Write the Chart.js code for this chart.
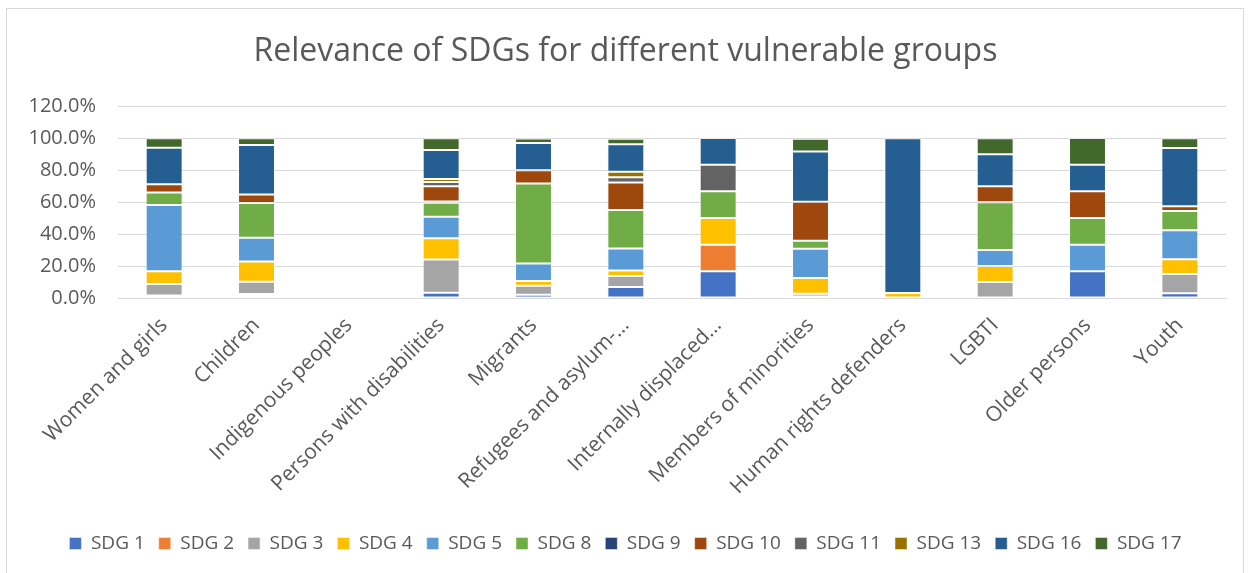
<!DOCTYPE html>
<html>
<head>
<meta charset="utf-8">
<script src="https://cdn.jsdelivr.net/npm/chart.js@4.4.1/dist/chart.umd.min.js"></script>
<style>
  html, body { margin: 0; padding: 0; background: #ffffff; }
  #wrap { position: absolute; left: 0; top: 0; width: 1250px; height: 573px; }
  #frame { position: absolute; left: 6px; top: 8px; width: 1238px; height: 570px; border: 1px solid #d9d9d9; box-sizing: border-box; }
  canvas { position: absolute; left: 0; top: 0; }
</style>
</head>
<body>
<div id="wrap">
  <div id="frame"></div>
  <canvas id="c" width="1250" height="573"></canvas>
</div>
<script>
const categories = [
  "Women and girls", "Children", "Indigenous peoples", "Persons with disabilities",
  "Migrants", "Refugees and asylum-\u2026", "Internally displaced\u2026", "Members of minorities",
  "Human rights defenders", "LGBTI", "Older persons", "Youth"
];
const seriesNames = ["SDG 1", "SDG 2", "SDG 3", "SDG 4", "SDG 5", "SDG 8", "SDG 9", "SDG 10", "SDG 11", "SDG 13", "SDG 16", "SDG 17"];
const seriesColors = ["#4472C4", "#ED7D31", "#A5A5A5", "#FFC000", "#5B9BD5", "#70AD47", "#264478", "#9E480E", "#636363", "#997300", "#255E91", "#43682B"];

// values in percent of each group's total
const sdg1  = [1.5, 1.5, 0, 3.3, 2.1, 6.9, 16.7, 1.0, 0, 0, 16.7, 3.0];
const sdg2  = [0, 1.0, 0, 0, 0, 0, 16.7, 0, 0, 0, 0, 0];
const sdg3  = [7.3, 7.7, 0, 20.8, 5.6, 6.9, 0, 1.7, 0, 10, 0, 12.1];
const sdg4  = [7.9, 12.7, 0, 13.3, 2.9, 3.4, 16.7, 9.8, 3.1, 10, 0, 9.1];
const sdg5  = [41.6, 14.8, 0, 13.5, 11.0, 13.8, 0, 18.3, 0, 10, 16.7, 18.2];
const sdg8  = [7.7, 21.8, 0, 8.7, 50.1, 24.1, 16.7, 5.0, 0, 30, 16.7, 12.1];
const sdg9  = [0, 0, 0, 0.8, 0, 0, 0, 0, 0, 0, 0, 0];
const sdg10 = [5.2, 5.4, 0, 9.6, 8.3, 17.2, 0, 24.5, 0, 10, 16.7, 3.0];
const sdg11 = [0, 0, 0, 2.7, 0, 3.4, 16.7, 0, 0, 0, 0, 0];
const sdg13 = [0, 0, 0, 1.9, 0, 3.4, 0, 0, 0, 0, 0, 0];
const sdg16 = [22.9, 31.0, 0, 18.1, 17.0, 17.2, 16.7, 31.4, 96.9, 20, 16.7, 36.4];
const sdg17 = [6.0, 4.2, 0, 7.3, 2.9, 3.4, 0, 8.1, 0, 10, 16.7, 6.1];

const seriesValues = [sdg1, sdg2, sdg3, sdg4, sdg5, sdg8, sdg9, sdg10, sdg11, sdg13, sdg16, sdg17];

const FONT = "'Open Sans', 'Noto Sans', sans-serif";
const TXT = "#595959";

new Chart(document.getElementById('c'), {
  type: 'bar',
  data: {
    labels: categories,
    datasets: seriesNames.map((name, i) => ({
      label: name,
      data: seriesValues[i],
      backgroundColor: seriesColors[i],
      borderColor: 'rgba(255,255,255,0.45)',
      borderWidth: 1,
      borderSkipped: false,
      barPercentage: 0.5,
      categoryPercentage: 0.8
    }))
  },
  options: {
    responsive: false,
    animation: false,
    devicePixelRatio: 1,
    layout: { padding: { left: 25, right: 24, top: 8, bottom: 10 } },
    plugins: {
      title: {
        display: true,
        text: 'Relevance of SDGs for different vulnerable groups',
        color: TXT,
        font: { family: FONT, size: 32, weight: 'normal' },
        padding: { top: 25, bottom: 35 }
      },
      legend: {
        position: 'bottom',
        labels: {
          color: TXT,
          font: { family: FONT, size: 19 },
          boxWidth: 12,
          boxHeight: 12,
          padding: 14
        }
      },
      tooltip: { enabled: false }
    },
    scales: {
      x: {
        stacked: true,
        grid: { display: false, drawTicks: false },
        border: { display: true, color: '#d9d9d9', width: 1 },
        ticks: {
          color: TXT,
          font: { family: FONT, size: 21 },
          maxRotation: 45,
          minRotation: 45,
          autoSkip: false,
          padding: 15
        },
        afterFit: s => { s.paddingLeft = 0; s.paddingRight = 0; s.height = 222; }
      },
      y: {
        stacked: true,
        min: 0,
        max: 120,
        grid: { color: '#d9d9d9', lineWidth: 1, drawTicks: false },
        border: { display: false },
        ticks: {
          stepSize: 20,
          color: TXT,
          font: { family: FONT, size: 20 },
          padding: 22,
          callback: v => v.toFixed(1) + '%'
        },
        afterFit: s => { s.width = 93; }
      }
    }
  }
});
</script>
</body>
</html>
